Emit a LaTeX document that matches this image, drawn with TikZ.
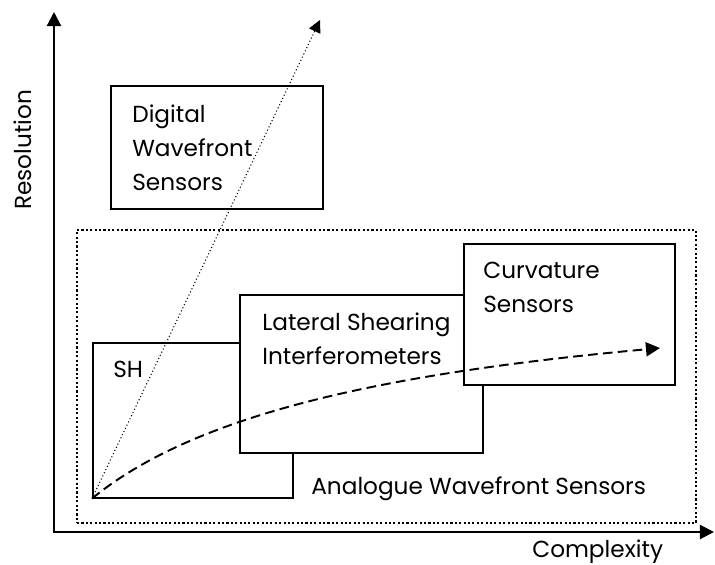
\documentclass[tikz,border=0pt]{standalone}
\usepackage{fontspec}
\setmainfont{Poppins}
\usetikzlibrary{arrows.meta,positioning}

\begin{document}
\begin{tikzpicture}[
            x=0.02cm, y=-0.02cm,
            >={Triangle[length=8pt,width=8pt]},
            every node/.style={font=\fontsize{13.2}{19.4}\selectfont},
            box/.style={draw, line width=0.9pt, fill=white, inner sep=0pt, anchor=north west},
            txt/.style={align=left, inner sep=0pt, anchor=north west},
            axis/.style={->, line width=1.2pt}
        ]
        \useasboundingbox (0,0) rectangle (715,564);

        %================================================
        % Analogue group: dotted frame
        %================================================
        \node[draw, line width=1.2pt, dash pattern=on 1.2pt off 1.3pt, inner sep=0pt,
              anchor=north west, minimum width=12.38cm, minimum height=5.86cm] (analogue) at (76,229) {};
        \node[txt] (analoguetxt) at (311,476) {Analogue Wavefront Sensors};

        %================================================
        % Boxes
        %================================================
        \node[box, minimum width=4.24cm, minimum height=2.46cm] (digital) at (110,85) {};
        \node[txt] (digitaltxt) at (132,104) {Digital\\Wavefront\\Sensors};

        \node[box, minimum width=4.0cm, minimum height=3.1cm] (sh) at (92,342) {};
        \node[txt] (shtxt) at (113,361) {SH};

        \node[box, minimum width=4.86cm, minimum height=3.16cm] (lateral) at (239,294) {};
        \node[txt] (lateraltxt) at (262,312) {Lateral Shearing\\Interferometers};

        \node[box, minimum width=4.22cm, minimum height=2.82cm] (curvature) at (463,243) {};
        \node[txt] (curvaturetxt) at (483,262) {Curvature\\Sensors};

        %================================================
        % Trends
        %================================================
        \coordinate (digtip) at (320,20);
        \coordinate (curvtip) at (660,348);

        \draw[->, >={Triangle[length=7pt,width=7pt]}, line width=0.6pt,
              dash pattern=on 0.6pt off 1.4pt] (sh.south west) -- (digtip);
        \draw[->, line width=1.1pt, dash pattern=on 5.5pt off 3pt]
            (sh.south west) .. controls (200,410) and (400,372) .. (curvtip);

        %================================================
        % Axes
        %================================================
        \coordinate (origin) at (54,532);
        \coordinate (ytip) at (54,12);
        \coordinate (xtip) at (714,532);

        \draw[axis] (origin) -- (ytip);
        \draw[axis] ([xshift=-0.6pt]origin) -- (xtip);

        \node[rotate=90] (ylabel) at (23,150) {Resolution};
        \node[txt] (xlabel) at (532,539) {Complexity};

        \end{tikzpicture}
\end{document}
